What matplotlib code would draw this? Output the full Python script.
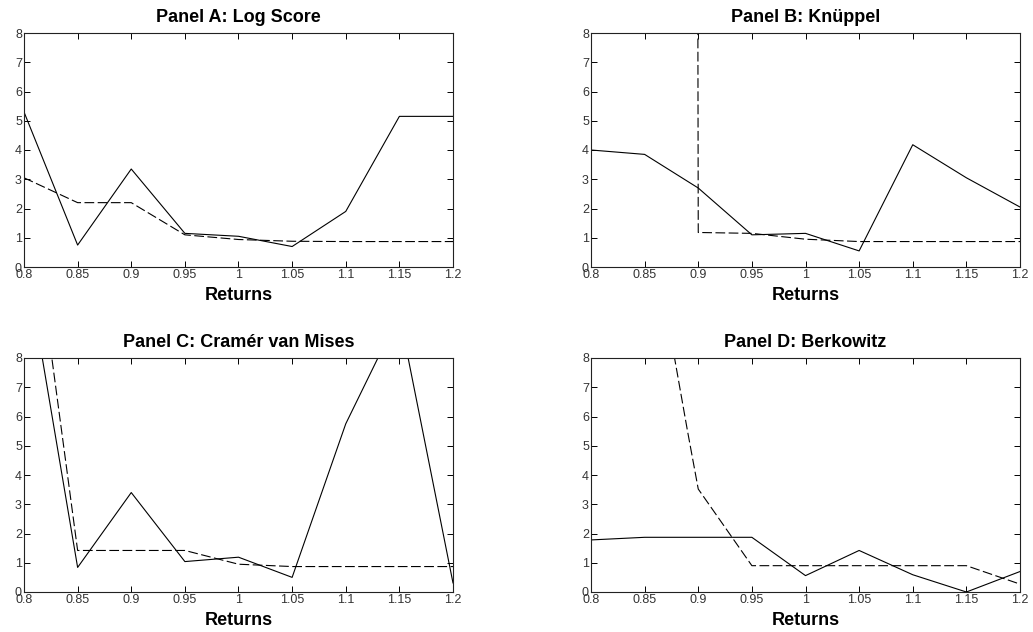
import matplotlib
matplotlib.use("Agg")
import matplotlib.pyplot as plt

plt.rcParams['font.family'] = ['Liberation Sans', 'DejaVu Sans']
plt.rcParams['lines.scale_dashes'] = False

# data
returns = [0.8, 0.85, 0.9, 0.95, 1.0, 1.05, 1.1, 1.15, 1.2]

a_solid = [5.3, 0.75, 3.35, 1.15, 1.05, 0.7, 1.9, 5.15, 5.15]
a_dash = [3.05, 2.2, 2.2, 1.1, 0.94, 0.88, 0.87, 0.87, 0.87]

b_solid = [4.0, 3.85, 2.7, 1.1, 1.15, 0.55, 4.18, 3.05, 2.05]
b_dash = [1200, 1000, 1.18, 1.15, 0.95, 0.87, 0.87, 0.87, 0.87]

c_solid = [11.7, 0.84, 3.4, 1.04, 1.19, 0.5, 5.75, 9.5, 0.31]
c_dash = [15.1, 1.42, 1.42, 1.42, 0.95, 0.87, 0.87, 0.87, 0.87]

d_solid = [1.78, 1.87, 1.87, 1.87, 0.56, 1.42, 0.59, 0.0, 0.7]
d_dash_x = [0.85, 0.875, 0.89, 0.9, 0.95, 1.0, 1.05, 1.1, 1.15, 1.2]
d_dash = [40, 8.6, 5.5, 3.52, 0.9, 0.9, 0.9, 0.9, 0.9, 0.27]

titles = ["Panel A: Log Score", "Panel B: Knüppel",
          "Panel C: Cramér van Mises", "Panel D: Berkowitz"]
xlabels = ["0.8", "0.85", "0.9", "0.95", "1", "1.05", "1.1", "1.15", "1.2"]

fig = plt.figure(figsize=(10.33, 6.32), dpi=100)

w = 429 / 1033
h = 234 / 632
positions = [
    [24 / 1033, 1 - 267 / 632, w, h],
    [591 / 1033, 1 - 267 / 632, w, h],
    [24 / 1033, 1 - 592 / 632, w, h],
    [591 / 1033, 1 - 592 / 632, w, h],
]

series = [
    (returns, a_solid, returns, a_dash),
    (returns, b_solid, returns, b_dash),
    (returns, c_solid, returns, c_dash),
    (returns, d_solid, d_dash_x, d_dash),
]

for pos, title, (xs, ys, xd, yd) in zip(positions, titles, series):
    ax = fig.add_axes(pos)
    ax.plot(xs, ys, color="black", linewidth=0.8)
    ax.plot(xd, yd, color="black", linewidth=0.8, dashes=(7, 2.5))
    ax.set_xlim(0.8, 1.2)
    ax.set_ylim(0, 8)
    ax.set_xticks(returns)
    ax.set_xticklabels(xlabels)
    ax.set_yticks(range(0, 9))
    ax.tick_params(direction="in", length=4, width=0.7, top=True, right=True,
                   labelsize=9, labelcolor="#333333", pad=1.5)
    for s in ax.spines.values():
        s.set_linewidth(0.8)
        s.set_color("#222222")
    ax.set_title(title, fontsize=13, fontweight="bold", pad=8)
    ax.set_xlabel("Returns", fontsize=13, fontweight="bold", labelpad=4)

fig.savefig("out.png", dpi=100)
